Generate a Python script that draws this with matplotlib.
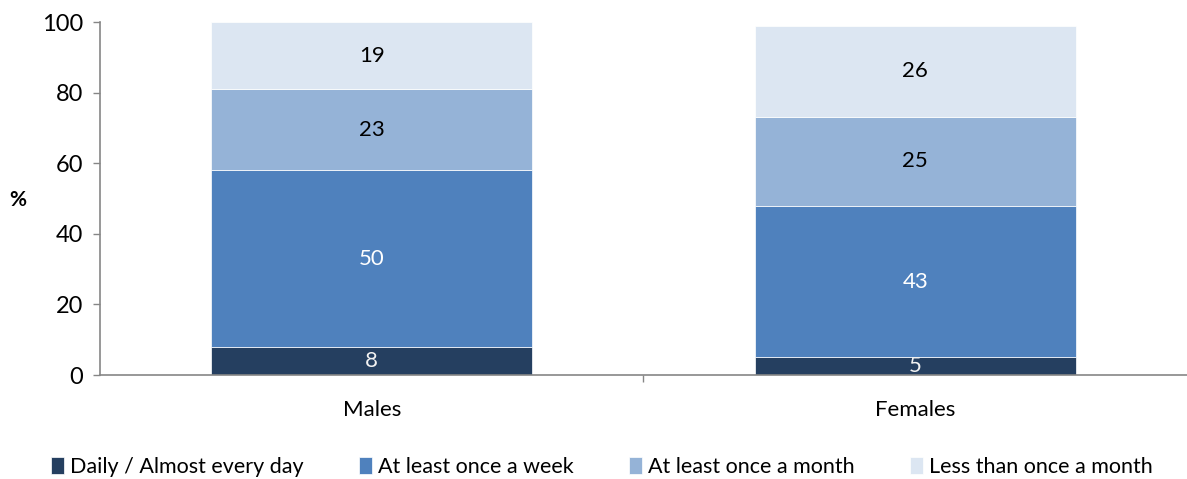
import matplotlib
matplotlib.use("Agg")
import matplotlib.pyplot as plt
import numpy as np

plt.rcParams['font.family'] = ['Lato', 'DejaVu Sans']

categories = ["Males", "Females"]
series_names = ["Daily / Almost every day", "At least once a week",
                "At least once a month", "Less than once a month"]
daily = [8, 5]
weekly = [50, 43]
monthly = [23, 25]
less_monthly = [19, 26]
yticks = [0, 20, 40, 60, 80, 100]

colors = ["#253F60", "#4F81BD", "#95B3D7", "#DCE6F2"]
label_colors = ["#F2F2F2", "white", "black", "black"]

fig = plt.figure(figsize=(11.87, 4.79), dpi=100)
ax = fig.add_axes([0.0842, 0.217, 0.9158, 0.737])

x = np.arange(len(categories))
bottom = np.zeros(len(categories))
for vals, col, lc, name in zip([daily, weekly, monthly, less_monthly],
                               colors, label_colors, series_names):
    vals = np.array(vals, dtype=float)
    ax.bar(x, vals, width=0.59, bottom=bottom, color=col,
           edgecolor="white", linewidth=0.5, label=name, zorder=2)
    for xi, b, v in zip(x, bottom, vals):
        ax.text(xi, b + v / 2, f"{v:.0f}", ha="center", va="center",
                fontsize=16, color=lc, zorder=3)
    bottom += vals

ax.set_xlim(-0.5, 1.5)
ax.set_ylim(0, 100)
ax.set_yticks(yticks)
ax.set_yticklabels([str(t) for t in yticks], fontsize=17)
ax.set_xticks([0.5])
ax.set_xticklabels([""])
ax.tick_params(axis="x", length=5, color="#868686", width=1)
ax.tick_params(axis="y", length=5, color="#868686", width=1, pad=7)
for i, c in enumerate(categories):
    ax.text(i, -7, c, ha="center", va="top", fontsize=16)

for s in ["top", "right"]:
    ax.spines[s].set_visible(False)
for s in ["left", "bottom"]:
    ax.spines[s].set_color("#868686")
    ax.spines[s].set_linewidth(1.2)

fig.text(18 / 1187, 1 - 200 / 479, "%", fontsize=15, fontweight="bold",
         ha="center", va="center")

handles, labels = ax.get_legend_handles_labels()
fig.legend(handles, labels, loc="center", bbox_to_anchor=(0.507, 0.025),
           ncol=4, frameon=False, fontsize=15.5, handlelength=0.6,
           handleheight=0.85, handletextpad=0.3, columnspacing=2.55)

fig.savefig("out.png", dpi=100)
